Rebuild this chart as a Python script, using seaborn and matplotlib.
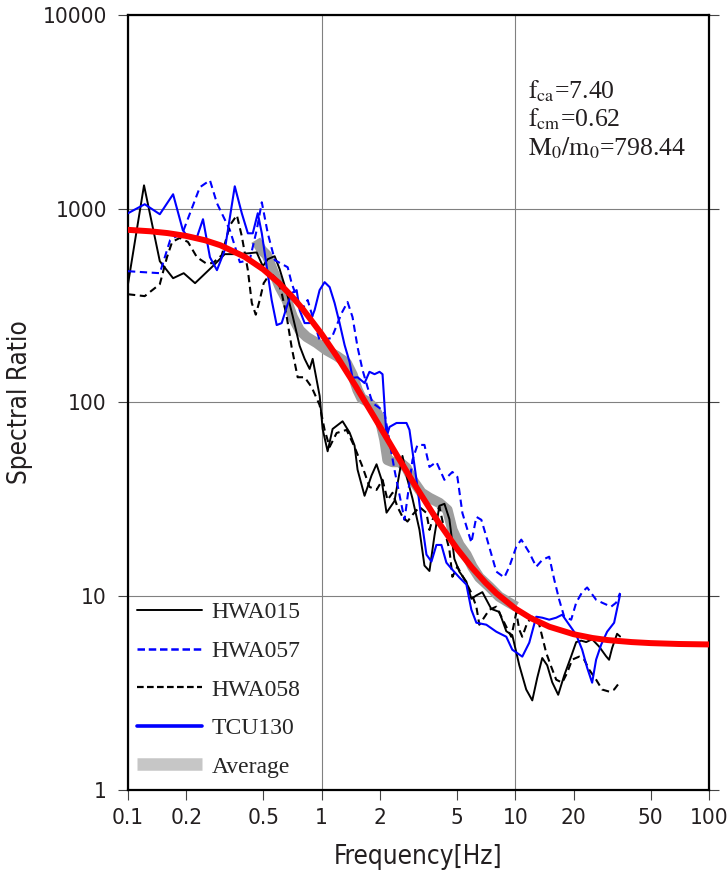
import numpy as np
import pandas as pd
import seaborn as sns
import matplotlib.pyplot as plt
from matplotlib import font_manager
from matplotlib.lines import Line2D
from matplotlib.ticker import FixedLocator, FixedFormatter

# station spectral ratios
hwa015_freq = [0.100, 0.121, 0.146, 0.171, 0.194, 0.222, 0.274, 0.316, 0.378, 0.462,
               0.497, 0.527, 0.572, 0.607, 0.660, 0.709, 0.770, 0.817, 0.867, 0.899,
               0.977, 1.012, 1.074, 1.139, 1.283, 1.394, 1.479, 1.533, 1.666, 1.810,
               1.921, 2.039, 2.163, 2.378, 2.615, 2.775, 2.944, 3.201, 3.396, 3.604,
               3.824, 4.058, 4.306, 4.568, 4.847, 5.143, 5.590, 5.932, 6.295, 6.760,
               7.520, 8.271, 8.986, 9.650, 10.49, 11.39, 12.24, 12.99, 13.78, 14.62,
               15.51, 16.66, 17.89, 19.44, 20.63, 21.89, 23.23, 24.94, 27.10, 29.45,
               30.51, 31.62, 33.55, 34.77]
hwa015_vals = [408, 1321, 536, 438, 465, 413, 505, 583, 583, 595,
               505, 549, 569, 488, 371, 279, 196, 168, 149, 168,
               108, 73, 56, 73, 80, 70, 60, 45, 33, 42,
               48, 40, 27, 31, 53, 40, 32, 22, 14.4, 13.5,
               20.5, 29.3, 30, 25, 15.6, 13.4, 11.9, 9.7, 10.1, 10.5,
               8.6, 8.3, 6.6, 6.3, 4.4, 3.3, 2.9, 3.8, 4.8, 4.4,
               3.6, 3.1, 3.9, 4.9, 5.8, 5.9, 5.8, 6.0, 5.5, 4.9,
               4.7, 5.4, 6.4, 6.2]

hwa057_freq = [0.100, 0.146, 0.165, 0.192, 0.235, 0.265, 0.288, 0.336, 0.378, 0.425,
               0.462, 0.491, 0.527, 0.573, 0.668, 0.700, 0.743, 0.789, 0.847, 0.899,
               0.976, 1.126, 1.268, 1.361, 1.444, 1.533, 1.627, 1.726, 1.832, 1.991,
               2.112, 2.378, 2.679, 2.945, 3.126, 3.396, 3.604, 3.915, 4.305, 4.735,
               5.024, 5.332, 5.932, 6.295, 6.680, 7.088, 7.983, 8.776, 9.314, 10.12,
               10.74, 11.81, 12.83, 13.78, 14.97, 15.89, 16.86, 17.89, 19.44, 20.63,
               22.15, 23.50, 26.15, 28.09, 31.24, 33.16, 34.77]
hwa057_vals = [476, 465, 688, 757, 1291, 1403, 1068, 775, 530, 543,
               775, 1080, 747, 543, 499, 413, 350, 300, 338, 276,
               210, 215, 289, 330, 276, 193, 147, 120, 99.4, 93.7,
               88.3, 44.9, 24.8, 50.5, 60.4, 60.4, 46.5, 49.3, 39.9, 43.8,
               41.3, 26.9, 18.9, 25.7, 24.8, 20.3, 13.4, 12.5, 14.2, 18.0,
               19.6, 16.8, 14.2, 15.4, 16.0, 12.2, 9.59, 7.84, 7.57, 9.26,
               10.5, 11.1, 9.59, 9.26, 8.83, 9.26, 10.4]

hwa058_freq = [0.100, 0.122, 0.146, 0.159, 0.169, 0.185, 0.204, 0.227, 0.252, 0.274,
               0.305, 0.336, 0.365, 0.387, 0.416, 0.436, 0.457, 0.479, 0.502, 0.527,
               0.559, 0.593, 0.622, 0.660, 0.700, 0.752, 0.817, 0.888, 0.976, 1.036,
               1.100, 1.195, 1.346, 1.479, 1.627, 1.766, 1.921, 2.063, 2.189, 2.323,
               2.465, 2.616, 2.775, 2.945, 3.201, 3.478, 3.604, 3.734, 4.058, 4.305,
               4.568, 4.735, 5.024, 5.590, 5.932, 6.295, 6.523, 7.345, 7.983, 8.986,
               9.537, 10.12, 10.49, 10.87, 11.53, 12.24, 13.30, 14.44, 15.33, 16.27,
               17.47, 18.54, 19.67, 21.38, 22.69, 24.07, 26.15, 28.09, 30.51, 32.39,
               34.77]
hwa058_vals = [362, 354, 408, 562, 674, 707, 674, 562, 524, 524,
               576, 822, 926, 722, 482, 326, 284, 338, 413, 444,
               454, 428, 367, 278, 193, 135, 135, 120, 97.1, 72.2,
               59.0, 69.6, 72.2, 59.0, 46.5, 36.7, 35.4, 39.9, 31.4, 34.2,
               28.9, 25.7, 24.3, 26.3, 28.9, 26.9, 22.0, 24.8, 28.9, 22.0,
               17.4, 12.6, 14.2, 11.7, 10.4, 8.83, 7.13, 8.52, 8.83, 6.96,
               6.18, 8.22, 6.72, 6.18, 7.30, 7.84, 7.13, 5.11, 4.33, 3.71,
               3.58, 4.03, 4.71, 4.88, 4.71, 4.18, 3.71, 3.30, 3.22, 3.30,
               3.62]

tcu130_freq = [0.100, 0.122, 0.146, 0.171, 0.192, 0.204, 0.227, 0.244, 0.265, 0.288,
               0.316, 0.356, 0.387, 0.416, 0.441, 0.468, 0.491, 0.521, 0.552, 0.586,
               0.622, 0.660, 0.700, 0.743, 0.770, 0.817, 0.867, 0.920, 0.976, 1.036,
               1.100, 1.167, 1.238, 1.314, 1.394, 1.444, 1.533, 1.666, 1.766, 1.876,
               1.991, 2.063, 2.163, 2.242, 2.436, 2.743, 2.842, 3.089, 3.278, 3.478,
               3.690, 3.915, 4.155, 4.409, 4.735, 5.143, 5.590, 5.932, 6.295, 7.088,
               7.983, 8.986, 9.650, 10.87, 11.81, 12.83, 13.78, 14.97, 16.27, 17.47,
               18.98, 20.63, 22.15, 23.50, 24.94, 26.15, 27.76, 29.80, 32.39, 34.77]
tcu130_vals = [948, 1055, 937, 1188, 775, 713, 713, 883, 562, 482,
               611, 1306, 948, 747, 747, 948, 747, 499, 338, 251,
               257, 311, 367, 380, 300, 257, 257, 300, 380, 418,
               394, 326, 257, 198, 162, 134, 135, 126, 144, 140,
               144, 140, 66.4, 74.8, 78.4, 78.4, 72.2, 39.9, 24.8, 16.4,
               15.1, 18.4, 18.4, 14.9, 13.7, 12.5, 11.5, 8.52, 7.30, 7.13,
               6.56, 6.18, 5.30, 4.88, 5.76, 7.84, 7.75, 7.57, 7.75, 8.03,
               7.13, 6.33, 5.30, 4.28, 3.58, 4.71, 5.62, 6.56, 7.30, 10.2]

avg_freq = [0.457, 0.491, 0.521, 0.559, 0.608, 0.660, 0.709, 0.770, 0.837, 0.942,
            1.061, 1.195, 1.346, 1.444, 1.533, 1.608, 1.726, 1.876, 1.991, 2.112,
            2.189, 2.323, 2.525, 2.743, 2.945, 3.278, 3.604, 4.058, 4.461, 4.735,
            5.143, 5.590, 6.003, 6.523, 7.345, 8.271, 9.314, 10.12]
avg_vals = [688, 611, 576, 482, 394, 338, 276, 236, 218, 203,
            186, 174, 160, 139, 116, 105, 101, 93.7, 83.2, 64.1,
            50.5, 49.3, 49.3, 46.0, 39.9, 34.2, 32.2, 30.3, 27.9, 22.0,
            18.4, 16.4, 14.2, 12.5, 11.2, 9.94, 9.26, 8.83]

# fitted source model curve (red)
model_freq = [0.1, 0.13, 0.16, 0.2, 0.25, 0.3, 0.4, 0.5, 0.6, 0.7, 0.8, 1.0, 1.2, 1.5,
              2, 2.5, 3, 4, 5, 6, 7, 8, 10, 12, 15, 20, 25, 30, 40, 50, 70, 100]
model_vals = [778.3, 765.1, 748.9, 723.7, 687.6, 648.0, 565.4, 486.0, 415.0, 354.1,
              303.1, 225.7, 172.7, 121.3, 75.1, 51.5, 38.1, 24.2, 17.6, 13.98, 11.78,
              10.34, 8.64, 7.72, 6.96, 6.37, 6.09, 5.94, 5.80, 5.73, 5.67, 5.64]

labels = ['HWA015', 'HWA057', 'HWA058', 'TCU130', 'Average']
x_major = [0.1, 1, 10, 100]
x_minor = [0.2, 0.5, 2, 5, 20, 50]
y_ticks = [1, 10, 100, 1000, 10000]
params = [r'$\mathrm{f_{ca}}$=7.40', r'$\mathrm{f_{cm}}$=0.62', r'$\mathrm{M_0/m_0}$=798.44']

sns.set_style('white')
plt.rcParams['mathtext.fontset'] = 'stix'

# pick a narrow sans for the axis text if one is around
narrow = None
for key in ['LiberationSansNarrow-Regular', 'DejaVuSansCondensed.ttf', 'RobotoCondensed-Regular']:
    for f in font_manager.fontManager.ttflist:
        if key in f.fname:
            narrow = f.fname
            break
    if narrow:
        break
if narrow and 'Narrow' in narrow:
    tick_fp = font_manager.FontProperties(fname=narrow, size=19)
    lab_fp = font_manager.FontProperties(fname=narrow, size=20.5)
elif narrow:
    tick_fp = font_manager.FontProperties(fname=narrow, size=16.2)
    lab_fp = font_manager.FontProperties(fname=narrow, size=18.7)
else:
    tick_fp = font_manager.FontProperties(family='Roboto', size=15)
    lab_fp = font_manager.FontProperties(family='Roboto', size=18)
serif = ['Liberation Serif', 'DejaVu Serif']

fig = plt.figure(figsize=(7.28, 8.77), dpi=100)
ax = fig.add_axes([0.1758, 0.0992, 0.798, 0.8837])
ax.set_xscale('log')
ax.set_yscale('log')

blue = '#0000ff'
sns.lineplot(x=avg_freq, y=avg_vals, ax=ax, color='#9e9e9e', lw=7.5,
             estimator=None, sort=False, zorder=2, solid_capstyle='butt')
sns.lineplot(x=hwa015_freq, y=hwa015_vals, ax=ax, color='black', lw=1.4,
             estimator=None, sort=False, zorder=3)
sns.lineplot(x=hwa057_freq, y=hwa057_vals, ax=ax, color=blue, lw=1.5, dashes=(3.5, 2.2),
             estimator=None, sort=False, zorder=3)
sns.lineplot(x=hwa058_freq, y=hwa058_vals, ax=ax, color='black', lw=1.5, dashes=(3.5, 2.2),
             estimator=None, sort=False, zorder=3)
sns.lineplot(x=tcu130_freq, y=tcu130_vals, ax=ax, color=blue, lw=1.5,
             estimator=None, sort=False, zorder=3)
sns.lineplot(x=model_freq, y=model_vals, ax=ax, color='#ff0000', lw=4.3,
             estimator=None, sort=False, zorder=4)

ax.set_xlim(0.1, 100)
ax.set_ylim(1, 10000)

# decade grid, 2/5 ticks labelled as minor ones
ax.xaxis.set_major_locator(FixedLocator(x_major))
ax.xaxis.set_minor_locator(FixedLocator(x_minor))
ax.xaxis.set_major_formatter(FixedFormatter([f'{t:g}' for t in x_major]))
ax.xaxis.set_minor_formatter(FixedFormatter([f'{t:g}' for t in x_minor]))
ax.yaxis.set_major_locator(FixedLocator(y_ticks))
ax.yaxis.set_major_formatter(FixedFormatter([str(t) for t in y_ticks]))
ax.yaxis.set_minor_locator(FixedLocator([]))

ax.grid(True, which='major', color='#808080', lw=0.8)
ax.tick_params(which='both', direction='out', length=7.2, width=0.8, color='#444444',
               labelcolor='#231f20')
ax.tick_params(axis='y', right=True, left=True, pad=8)
ax.tick_params(axis='x', which='both', bottom=True, pad=6)
for lab in ax.get_xticklabels(which='both') + ax.get_yticklabels():
    lab.set_fontproperties(tick_fp)
for s in ax.spines.values():
    s.set_color('black')
    s.set_linewidth(1.6)

ax.set_xlabel('Frequency[Hz]', fontproperties=lab_fp, color='#231f20')
ax.set_ylabel('Spectral Ratio', fontproperties=lab_fp, color='#231f20')
ax.xaxis.set_label_coords(0.5, -0.07)
ax.yaxis.set_label_coords(-0.163, 0.5)

for i, t in enumerate(params):
    ax.text(0.688, 0.893 - i * 0.037, t, transform=ax.transAxes, fontsize=18.5,
            family=serif, color='#231f20')

handles = [Line2D([], [], color='black', lw=1.4),
           Line2D([], [], color=blue, lw=1.8, dashes=(3, 1.5)),
           Line2D([], [], color='black', lw=1.6, dashes=(3, 1.5)),
           Line2D([], [], color=blue, lw=2.6),
           Line2D([], [], color='#c6c6c6', lw=9, solid_capstyle='butt')]
ax.legend(handles, labels, loc='lower left', bbox_to_anchor=(0.015, 0.016),
          frameon=False, handlelength=2.75, handletextpad=0.42, labelspacing=0.72,
          borderpad=0, borderaxespad=0, prop={'family': serif, 'size': 17})

fig.savefig('out.png', dpi=100)
